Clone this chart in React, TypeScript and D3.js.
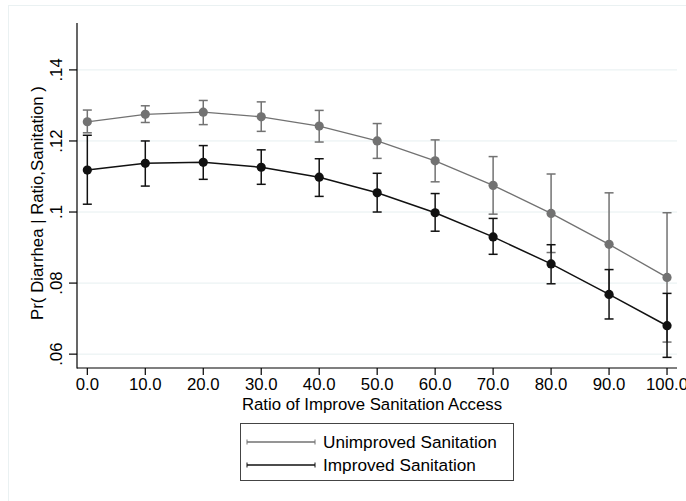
import React from "react";
import * as d3 from "d3";

const ratios = [0, 10, 20, 30, 40, 50, 60, 70, 80, 90, 100];
const unimproved = [0.1254, 0.1275, 0.1281, 0.1268, 0.1242, 0.12, 0.1144, 0.1075, 0.0996, 0.0909, 0.0816];
const unimprovedLo = [0.1223, 0.1252, 0.1246, 0.1227, 0.1197, 0.1151, 0.1085, 0.0994, 0.0886, 0.0765, 0.0634];
const unimprovedHi = [0.1287, 0.1299, 0.1314, 0.131, 0.1286, 0.1249, 0.1203, 0.1156, 0.1107, 0.1054, 0.0998];
const improved = [0.1118, 0.1137, 0.114, 0.1126, 0.1098, 0.1054, 0.0998, 0.093, 0.0854, 0.0768, 0.068];
const improvedLo = [0.1022, 0.1073, 0.1092, 0.1078, 0.1044, 0.1, 0.0946, 0.0881, 0.0798, 0.0699, 0.0591];
const improvedHi = [0.1216, 0.12, 0.1187, 0.1175, 0.115, 0.1109, 0.1052, 0.0982, 0.0908, 0.0838, 0.0771];
const yTicks = [0.06, 0.08, 0.1, 0.12, 0.14];
const yTickLabels = [".06", ".08", ".1", ".12", ".14"];
const xTicks = [0, 10, 20, 30, 40, 50, 60, 70, 80, 90, 100];
const xTickLabels = ["0.0", "10.0", "20.0", "30.0", "40.0", "50.0", "60.0", "70.0", "80.0", "90.0", "100.0"];
const seriesNames = ["Unimproved Sanitation", "Improved Sanitation"];

const FONT = "'Liberation Sans', Arial, Helvetica, sans-serif";
const GRAY = "#727272";
const BLACK = "#111111";

export default function App() {
  const left = 77, right = 677, top = 23, bottom = 368;
  const x = d3.scaleLinear().domain([-1.78, 101.72]).range([left, right]);
  const y = d3.scaleLinear().domain([0.0561, 0.1532]).range([bottom, top]);

  const series = [
    { name: seriesNames[0], mean: unimproved, lo: unimprovedLo, hi: unimprovedHi, color: GRAY, lw: 1.3 },
    { name: seriesNames[1], mean: improved, lo: improvedLo, hi: improvedHi, color: BLACK, lw: 1.5 },
  ];

  const line = d3
    .line<number>()
    .x((_, i) => x(ratios[i]))
    .y((d) => y(d));

  const cap = 4.5;
  const fs = 16.8;

  return (
    <svg width={686} height={501} style={{ position: "absolute", left: 0, top: 0, background: "#fff" }}>
      <rect x={8.5} y={5.5} width={700} height={520} fill="#fff" stroke="#eaf1f2" strokeWidth={1} />
      {yTicks.map((t) => (
        <line key={"g" + t} x1={left} x2={right} y1={y(t)} y2={y(t)} stroke="#e6eff0" strokeWidth={1} />
      ))}
      <line x1={left} x2={left} y1={top} y2={bottom + 0.5} stroke="#000" strokeWidth={1.2} />
      <line x1={left} x2={right} y1={bottom} y2={bottom} stroke="#000" strokeWidth={1.2} />
      {yTicks.map((t, i) => (
        <g key={"yt" + t}>
          <line x1={left - 8} x2={left} y1={y(t)} y2={y(t)} stroke="#000" strokeWidth={1.2} />
          <text
            transform={`translate(${62},${y(t)}) rotate(-90)`}
            textAnchor="middle"
            fontFamily={FONT}
            fontSize={fs}
            fill="#000"
          >
            {yTickLabels[i]}
          </text>
        </g>
      ))}
      {xTicks.map((t, i) => (
        <g key={"xt" + t}>
          <line x1={x(t)} x2={x(t)} y1={bottom} y2={bottom + 7} stroke="#000" strokeWidth={1.2} />
          <text x={x(t)} y={390} textAnchor="middle" fontFamily={FONT} fontSize={fs} fill="#000">
            {xTickLabels[i]}
          </text>
        </g>
      ))}
      <text
        transform={`translate(${43},${203}) rotate(-90)`}
        textAnchor="middle"
        fontFamily={FONT}
        fontSize={fs}
        fill="#000"
      >
        Pr( Diarrhea | Ratio,Sanitation )
      </text>
      <text x={372} y={409.5} textAnchor="middle" fontFamily={FONT} fontSize={fs} fill="#000">
        Ratio of Improve Sanitation Access
      </text>

      {series.map((s) => (
        <g key={s.name}>
          {ratios.map((r, i) => (
            <g key={"ci" + r} stroke={s.color} strokeWidth={1.5}>
              <line x1={x(r)} x2={x(r)} y1={y(s.lo[i])} y2={y(s.hi[i])} />
              <line x1={x(r) - cap} x2={x(r) + cap} y1={y(s.lo[i])} y2={y(s.lo[i])} />
              <line x1={x(r) - cap} x2={x(r) + cap} y1={y(s.hi[i])} y2={y(s.hi[i])} />
            </g>
          ))}
          <path d={line(s.mean) || ""} fill="none" stroke={s.color} strokeWidth={s.lw} />
          {ratios.map((r, i) => (
            <circle key={"m" + r} cx={x(r)} cy={y(s.mean[i])} r={4.6} fill={s.color} />
          ))}
        </g>
      ))}

      <rect x={240.5} y={423.5} width={273} height={57} fill="#fff" stroke="#444" strokeWidth={1} />
      {series.map((s, i) => {
        const ly = 442 + i * 23;
        return (
          <g key={"lg" + s.name}>
            <line x1={247} x2={315} y1={ly} y2={ly} stroke={s.color} strokeWidth={s.lw} />
            <line x1={247} x2={247} y1={ly - 2.5} y2={ly + 2.5} stroke={s.color} strokeWidth={1} />
            <line x1={315} x2={315} y1={ly - 2.5} y2={ly + 2.5} stroke={s.color} strokeWidth={1} />
            <text x={323} y={ly + 5.5} fontFamily={FONT} fontSize={17.2} fill="#000">
              {s.name}
            </text>
          </g>
        );
      })}
    </svg>
  );
}
